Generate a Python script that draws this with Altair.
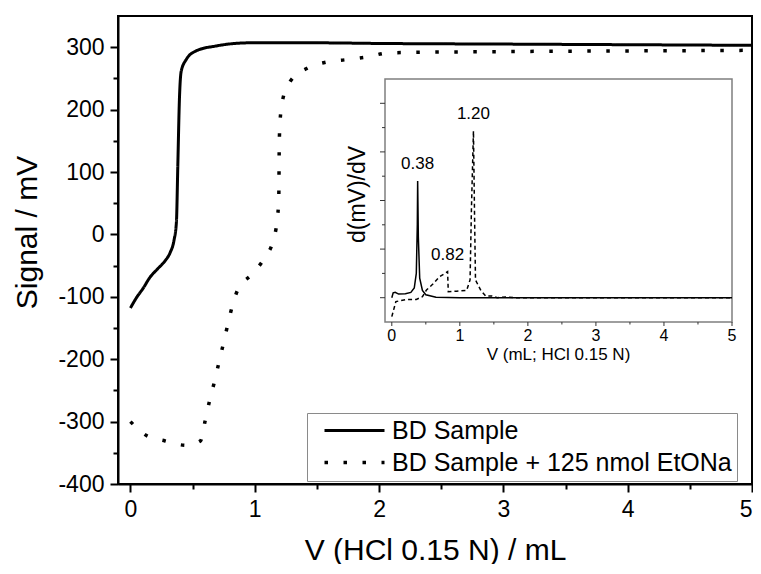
import altair as alt
import pandas as pd

F = "Liberation Sans"

# ---- main titration curves (V in mL, signal in mV) ----
bd_v = [0, 0.05, 0.1, 0.16, 0.22, 0.28, 0.32, 0.35, 0.37, 0.381, 0.394, 0.408,
        0.448, 0.528, 0.69, 0.96, 1.5, 2.0, 3.0, 4.0, 5.0]
bd_mv = [-118, -101, -87, -68, -55, -42, -29, -10, 20, 109, 216, 261,
         280, 294, 302, 307, 307, 306, 305, 304, 303]

eto_v = [0, 0.126, 0.279, 0.448, 0.563, 0.601, 0.636, 0.676, 0.711, 0.749, 0.786,
         0.823, 0.863, 0.976, 1.078, 1.15, 1.18, 1.193, 1.195, 1.196, 1.198, 1.205,
         1.226, 1.285, 1.418, 1.574, 1.735, 1.896, 2.08, 3.0, 4.0, 5.0]
eto_mv = [-300, -322, -331, -338, -331, -299, -267, -236, -206, -174, -142,
          -112, -89, -64, -38, -8, 23, 56, 88, 120, 152, 185,
          217, 245, 266, 276, 280, 284, 291, 293, 294, 295]

series_names = ["BD Sample", "BD Sample + 125 nmol EtONa"]

# ---- inset derivative curves (arbitrary units) ----
d1_v = [0, 0.02, 0.05, 0.1, 0.2, 0.28, 0.33, 0.36, 0.375, 0.38, 0.39, 0.41, 0.45,
        0.5, 0.65, 1.0, 5.0]
d1_y = [0, 0.2, 0.22, 0.15, 0.16, 0.22, 0.4, 1.0, 3.0, 4.8, 2.5, 0.8, 0.3,
        0.12, 0.02, 0, 0]
d2_v = [0, 0.06, 0.2, 0.36, 0.45, 0.51, 0.6, 0.7, 0.78, 0.82, 0.83, 0.95, 1.1,
        1.15, 1.17, 1.2, 1.215, 1.23, 1.31, 1.38, 1.47, 1.55, 1.69, 1.8, 5.0]
d2_y = [-0.78, -0.16, -0.08, -0.07, 0.04, 0.32, 0.55, 0.86, 1.0, 1.07, 0.25, 0.27, 0.3,
        0.73, 3.6, 6.86, 3.6, 0.73, 0.29, 0.07, 0.07, 0.0, 0.03, 0.0, 0.0]

peak_labels = ["0.38", "0.82", "1.20"]
peak_v = [0.38, 0.82, 1.20]
peak_h = [4.8, 1.07, 6.86]

main_x_ticks = [i * 0.5 for i in range(11)]
main_y_ticks = list(range(-400, 301, 50))
inset_x_major = [0, 1, 2, 3, 4, 5]
inset_x_minor = [0.5, 1.5, 2.5, 3.5, 4.5]
inset_y_major = [0, 2, 4, 6, 8]
inset_y_minor = [1, 3, 5, 7]
inset_x_dom = [-0.1, 5]
inset_y_dom = [-1, 9]

# ---- data frames ----
main_df = pd.concat([
    pd.DataFrame({"v": bd_v, "mv": bd_mv, "series": series_names[0], "i": range(len(bd_v))}),
    pd.DataFrame({"v": eto_v, "mv": eto_mv, "series": series_names[1], "i": range(len(eto_v))}),
])
d1_df = pd.DataFrame({"v": d1_v, "d": d1_y, "i": range(len(d1_v))})
d2_df = pd.DataFrame({"v": d2_v, "d": d2_y, "i": range(len(d2_v))})
lab_df = pd.DataFrame({"v": peak_v, "d": peak_h, "t": peak_labels})
one_df = pd.DataFrame({"a": [0]})
ixM_df = pd.DataFrame({"v": inset_x_major, "t": [str(v) for v in inset_x_major]})
ixm_df = pd.DataFrame({"v": inset_x_minor})
iyM_df = pd.DataFrame({"v": inset_y_major})
iym_df = pd.DataFrame({"v": inset_y_minor})

# ---- main chart ----
main_x = alt.X("v:Q", scale=alt.Scale(domain=[-0.1, 5], nice=False, zero=False),
               axis=alt.Axis(values=main_x_ticks,
                             labelExpr="datum.value % 1 === 0 ? format(datum.value, 'd') : ''",
                             tickSize={"condition": {"test": "datum.value % 1 === 0", "value": 8}, "value": 5},
                             tickWidth=2, tickColor="black", domainColor="black", domainWidth=2,
                             labelFont=F, labelFontSize=23, labelColor="black", labelPadding=6,
                             labelOverlap=False, labelFlush=True, grid=False,
                             title="V (HCl 0.15 N) / mL", titleFont=F, titleFontSize=30,
                             titleFontWeight="normal", titleColor="black",
                             titleY=75, titleBaseline="alphabetic"))
main_y = alt.Y("mv:Q", scale=alt.Scale(domain=[-400, 350], nice=False, zero=False),
               axis=alt.Axis(values=main_y_ticks,
                             labelExpr="datum.value % 100 === 0 ? '' + datum.value : ''",
                             tickSize={"condition": {"test": "datum.value % 100 === 0", "value": 8}, "value": 5},
                             tickWidth=2, tickColor="black", domainColor="black", domainWidth=2,
                             labelFont=F, labelFontSize=23, labelColor="black", labelPadding=6,
                             labelOverlap=False, labelFlush=False, grid=False,
                             title="Signal / mV", titleFont=F, titleFontSize=30,
                             titleFontWeight="normal", titleColor="black",
                             titleX=-82, titleY=216, titleAngle=270, titleBaseline="alphabetic"))

legend = alt.Legend(title=None, orient="none", legendX=189, legendY=397, direction="vertical",
                    fillColor="white", strokeColor="#8a8a8a", padding=5,
                    labelFont=F, labelFontSize=25, labelColor="black", labelLimit=0,
                    symbolType="M-3,0H3", symbolSize=400, symbolStrokeWidth=3,
                    symbolStrokeColor="black", symbolOffset=30, labelOffset=25, rowPadding=6)

main = alt.Chart(main_df).mark_line(color="black", interpolate="monotone").encode(
    x=main_x, y=main_y,
    strokeDash=alt.StrokeDash("series:N", scale=alt.Scale(domain=series_names, range=[[1, 0], [3.5, 15.5]]),
                              legend=legend),
    strokeWidth=alt.StrokeWidth("series:N", scale=alt.Scale(domain=series_names, range=[3, 3.5]), legend=None),
    detail="series:N",
    order="i:Q",
)

# ---- inset (its own scales, placed inside the main plot area) ----
ix_scale = alt.Scale(domain=inset_x_dom, range=[267, 614], nice=False, zero=False)
iy_scale = alt.Scale(domain=inset_y_dom, range=[306, 63], nice=False, zero=False)
GRAY = "#7f7f7f"


def ix(field=None, datum=None):
    if field is not None:
        return alt.X(field, scale=ix_scale, axis=None)
    return alt.X(datum=datum, scale=ix_scale, axis=None)


def iy(field=None, datum=None):
    if field is not None:
        return alt.Y(field, scale=iy_scale, axis=None)
    return alt.Y(datum=datum, scale=iy_scale, axis=None)


box = alt.Chart(one_df).mark_rect(fill="white", stroke=GRAY, strokeWidth=1.5).encode(
    x=ix(datum=inset_x_dom[0]), x2=alt.datum(inset_x_dom[1]),
    y=iy(datum=inset_y_dom[0]), y2=alt.datum(inset_y_dom[1]),
)
xt_major = alt.Chart(ixM_df).mark_rule(color="#333333", strokeWidth=1, y2Offset=4).encode(
    x=ix("v:Q"), y=iy(datum=inset_y_dom[0]), y2=alt.datum(inset_y_dom[0]))
xt_minor = alt.Chart(ixm_df).mark_rule(color="#333333", strokeWidth=1, y2Offset=2.5).encode(
    x=ix("v:Q"), y=iy(datum=inset_y_dom[0]), y2=alt.datum(inset_y_dom[0]))
yt_major = alt.Chart(iyM_df).mark_rule(color="#333333", strokeWidth=1, x2Offset=-5).encode(
    y=iy("v:Q"), x=ix(datum=inset_x_dom[0]), x2=alt.datum(inset_x_dom[0]))
yt_minor = alt.Chart(iym_df).mark_rule(color="#333333", strokeWidth=1, x2Offset=-3).encode(
    y=iy("v:Q"), x=ix(datum=inset_x_dom[0]), x2=alt.datum(inset_x_dom[0]))
xt_labels = alt.Chart(ixM_df).mark_text(font=F, fontSize=16, color="black", baseline="alphabetic",
                                        yOffset=19).encode(
    x=ix("v:Q"), y=iy(datum=inset_y_dom[0]), text="t:N")
x_title = alt.Chart(one_df).mark_text(font=F, fontSize=17, color="black", baseline="alphabetic",
                                      yOffset=37.5).encode(
    x=ix(datum=(inset_x_dom[0] + inset_x_dom[1]) / 2), y=iy(datum=inset_y_dom[0]),
    text=alt.value("V (mL; HCl 0.15 N)"))
y_title = alt.Chart(one_df).mark_text(font=F, fontSize=23, color="black", baseline="alphabetic",
                                      angle=270, xOffset=-20, yOffset=-6).encode(
    x=ix(datum=inset_x_dom[0]), y=iy(datum=(inset_y_dom[0] + inset_y_dom[1]) / 2),
    text=alt.value("d(mV)/dV"))

ins1 = alt.Chart(d1_df).mark_line(color="black", strokeWidth=1.5).encode(
    x=ix("v:Q"), y=iy("d:Q"), order="i:Q")
ins2 = alt.Chart(d2_df).mark_line(color="black", strokeWidth=1.5, strokeDash=[4, 3]).encode(
    x=ix("v:Q"), y=iy("d:Q"), order="i:Q")
labs = alt.Chart(lab_df).mark_text(font=F, fontSize=17, color="black", dy=-17, baseline="middle").encode(
    x=ix("v:Q"), y=iy("d:Q"), text="t:N")

inset = alt.layer(box, xt_major, xt_minor, yt_major, yt_minor, xt_labels, x_title, y_title,
                  ins1, ins2, labs)

chart = alt.layer(main, inset).resolve_scale(x="independent", y="independent").properties(
    width=634, height=468,
    autosize=alt.AutoSizeParams(type="none"),
    padding={"left": 110, "top": 8, "right": 1, "bottom": 80},
).configure_view(stroke="black", strokeWidth=2)

chart.save("out.html", embed_options={"renderer": "svg", "actions": False})
